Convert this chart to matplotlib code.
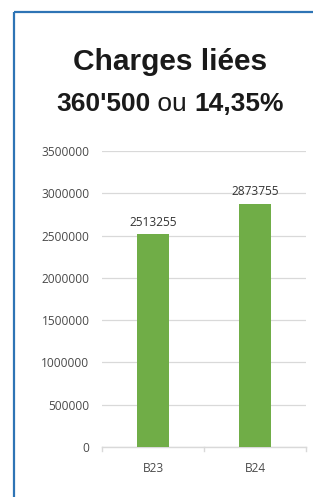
import matplotlib
matplotlib.use("Agg")
import matplotlib.pyplot as plt
from matplotlib.lines import Line2D

categories = ["B23", "B24"]
values = [2513255, 2873755]
yticks = [0, 500000, 1000000, 1500000, 2000000, 2500000, 3000000, 3500000]

W, H = 313, 497
fig = plt.figure(figsize=(W / 100, H / 100), dpi=100)
fig.patch.set_facecolor("white")

# blue frame (left and top)
fig.add_artist(Line2D([14 / W, 14 / W], [0, 1 - 12 / H], color="#2E74B5", lw=1.6,
                      transform=fig.transFigure, solid_capstyle="butt"))
fig.add_artist(Line2D([14 / W, 1], [1 - 12 / H, 1 - 12 / H], color="#2E74B5", lw=1.6,
                      transform=fig.transFigure, solid_capstyle="butt"))

ax = fig.add_axes([102 / W, 1 - 447 / H, 204 / W, (447 - 151) / H])
x = list(range(len(categories)))
ax.bar(x, values, width=0.314, color="#70AD47", zorder=3)
ax.set_xlim(-0.5, 1.5)
ax.set_ylim(0, 3500000)
ax.set_yticks(yticks)
ax.set_yticklabels([str(v) for v in yticks], fontsize=8.6, color="#4A4A4A",
                   family="Open Sans")
ax.set_xticks(x)
ax.set_xticklabels(categories, fontsize=8.6, color="#4A4A4A", family="Open Sans")
ax.tick_params(axis="y", length=0, pad=9)
ax.tick_params(axis="x", length=0, pad=11)
for sp in ["top", "right", "left"]:
    ax.spines[sp].set_visible(False)
ax.spines["bottom"].set_color("#D9D9D9")
ax.spines["bottom"].set_linewidth(1)
ax.grid(axis="y", color="#D9D9D9", lw=0.9, zorder=0)
ax.set_axisbelow(True)
# minor ticks at category boundaries
for b in [-0.5, 0.5, 1.5]:
    ax.plot([b, b], [0, -0.015], transform=ax.get_xaxis_transform(), color="#D9D9D9",
            lw=1, clip_on=False)

for xi, v in zip(x, values):
    ax.annotate(str(v), (xi, v), xytext=(0, 4), textcoords="offset points",
                ha="center", va="bottom", fontsize=8.6, color="#333333", family="Open Sans")

fig.text(170 / W, 1 - 62 / H, "Charges liées", ha="center", va="center",
         fontsize=21.5, fontweight="bold", color="#1A1A1A", family="Liberation Sans")

# second title line with mixed weights
line_y = 1 - 104 / H
parts = [("360'500", "bold"), (" ou ", "normal"), ("14,35%", "bold")]
fig.canvas.draw()
r = fig.canvas.get_renderer()
texts = []
for s, w in parts:
    t = fig.text(0, line_y, s, ha="left", va="center", fontsize=19, fontweight=w,
                 color="#1A1A1A", family="Liberation Sans")
    texts.append(t)
widths = [t.get_window_extent(r).width for t in texts]
total = sum(widths)
start = 170 - total / 2
pos = start
for t, wd in zip(texts, widths):
    t.set_x(pos / W)
    pos += wd

fig.savefig("out.png", dpi=100)
